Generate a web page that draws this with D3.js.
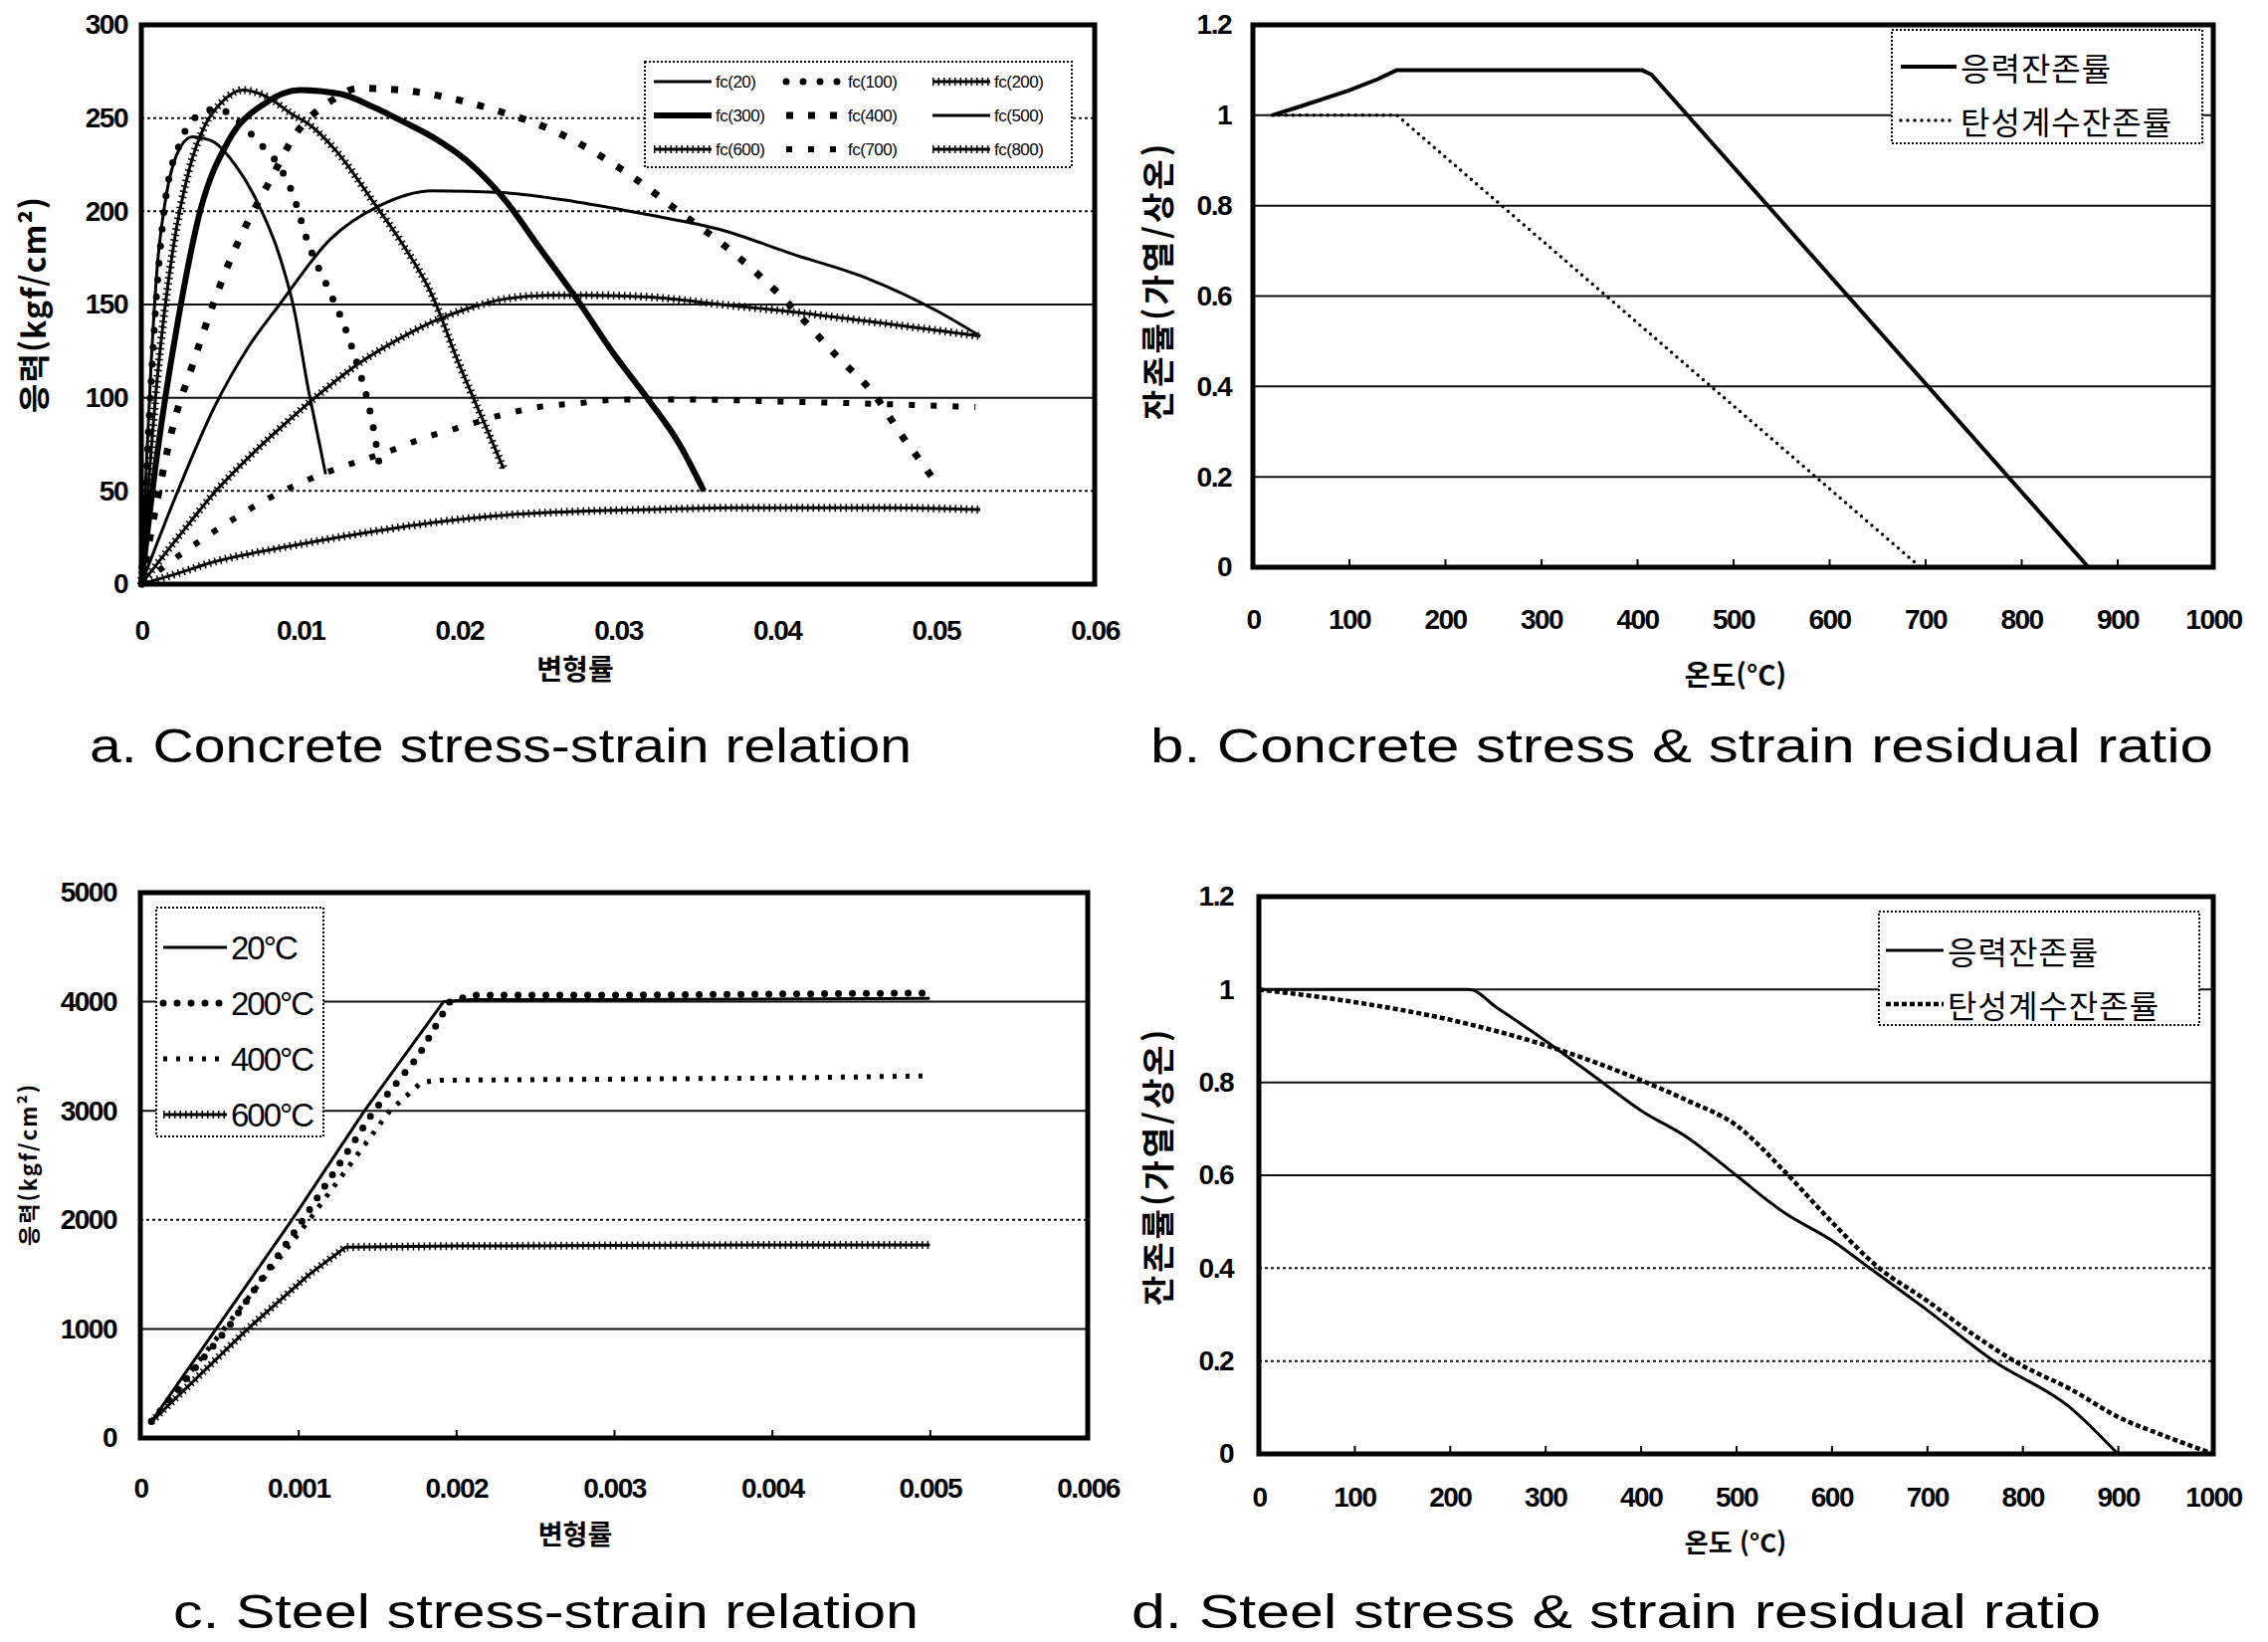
<!DOCTYPE html>
<html lang="ko">
<head>
<meta charset="utf-8">
<title>Concrete and steel at high temperature</title>
<script src="https://d3js.org/d3.v7.min.js"></script>
<style>
  html, body { margin: 0; padding: 0; background: #fff; }
  svg { display: block; }
</style>
</head>
<body>
<div id="chart"></div>
<script>
// ---------- a. concrete stress-strain ----------
var aStrainTicks = [0, 0.01, 0.02, 0.03, 0.04, 0.05, 0.06];
var aStressTicks = [0, 50, 100, 150, 200, 250, 300];
var aNames = ["fc(20)", "fc(100)", "fc(200)", "fc(300)", "fc(400)", "fc(500)", "fc(600)", "fc(700)", "fc(800)"];
var fc20 = [[0,0],[0.0003,60],[0.0006,115],[0.001,170],[0.0015,205],[0.002,225],[0.0025,235],[0.0032,240],[0.004,239],[0.0046,237],[0.0059,225],[0.0073,205],[0.0087,176],[0.0096,148],[0.0105,105],[0.0111,80],[0.0116,59]];
var fc100 = [[0,0],[0.0005,90],[0.001,160],[0.0015,205],[0.0025,238],[0.0035,251],[0.0048,255],[0.006,249],[0.0075,236],[0.0087,224],[0.0095,210],[0.0105,183],[0.0119,156],[0.0128,138],[0.0137,115],[0.0142,100],[0.0146,84],[0.015,63]];
var fc200 = [[0,0],[0.001,110],[0.002,180],[0.003,222],[0.004,246],[0.005,258],[0.0064,265],[0.008,261],[0.0095,252],[0.0105,247],[0.0123,232],[0.0146,205],[0.0164,183],[0.0183,155],[0.02,118],[0.0215,88],[0.0228,62]];
var fc300 = [[0,0],[0.001,70],[0.0023,141],[0.0037,200],[0.0055,238],[0.0078,258],[0.01,265],[0.0125,263],[0.0146,256],[0.0165,248],[0.0183,240],[0.0205,227],[0.0228,207],[0.0251,180],[0.0274,153],[0.0297,124],[0.032,98],[0.0338,76],[0.0354,50]];
var fc400 = [[0,0],[0.001,45],[0.002,85],[0.0032,117],[0.0046,152],[0.0055,172],[0.0068,196],[0.0082,218],[0.0096,240],[0.0119,259],[0.0137,266],[0.0164,265],[0.0187,262],[0.022,255],[0.0265,241],[0.031,218],[0.0338,200],[0.0365,183],[0.0402,155],[0.0438,122],[0.0461,102],[0.048,78],[0.0493,63],[0.0502,52]];
var fc500 = [[0,0],[0.0023,50],[0.0046,95],[0.0068,128],[0.0087,150],[0.0119,185],[0.015,203],[0.0183,211],[0.0228,210],[0.0274,205],[0.032,198],[0.0365,190],[0.041,177],[0.0457,164],[0.0502,146],[0.0528,133]];
var fc600 = [[0,0],[0.0023,25],[0.0047,50],[0.007,70],[0.0093,88],[0.0115,104],[0.0138,119],[0.0161,131],[0.0184,141],[0.0206,148],[0.0229,153],[0.0256,155],[0.028,155],[0.032,154],[0.0365,150],[0.041,146],[0.0457,141],[0.0502,136],[0.0528,133]];
var fc700 = [[0,0],[0.002,13],[0.004,25],[0.006,36],[0.008,46],[0.0105,56],[0.013,64],[0.0155,71],[0.018,79],[0.02,84],[0.0228,91],[0.025,95],[0.0275,97],[0.03,99],[0.035,99],[0.04,98],[0.045,97],[0.0525,95]];
var fc800 = [[0,0],[0.002,5],[0.0046,12],[0.0091,20],[0.0137,27],[0.0183,33],[0.0228,37],[0.0274,39],[0.032,40],[0.037,41],[0.042,41],[0.047,41],[0.0528,40]];

// ---------- b. concrete residual ratio ----------
var tempTicks = [0, 100, 200, 300, 400, 500, 600, 700, 800, 900, 1000];
var ratioTicks = [0, 0.2, 0.4, 0.6, 0.8, 1, 1.2];
var ratioNames = ["응력잔존률", "탄성계수잔존률"];
var bStress = [[20,1.0],[50,1.02],[100,1.055],[130,1.08],[150,1.1],[405,1.1],[415,1.09],[870,0]];
var bModulus = [[20,1.0],[150,1.0],[695,0]];

// ---------- c. steel stress-strain ----------
var cStrainTicks = [0, 0.001, 0.002, 0.003, 0.004, 0.005, 0.006];
var cStressTicks = [0, 1000, 2000, 3000, 4000, 5000];
var cNames = ["20°C", "200°C", "400°C", "600°C"];
var s20 = [[0.00007,150],[0.00048,1000],[0.00096,2000],[0.00142,3000],[0.00192,4000],[0.0021,4020],[0.003,4020],[0.005,4030]];
var s200 = [[0.00007,150],[0.00055,1000],[0.00103,2000],[0.00148,3000],[0.00176,3500],[0.00196,4000],[0.0021,4060],[0.003,4060],[0.004,4070],[0.005,4080]];
var s400 = [[0.00007,150],[0.00053,1000],[0.00107,2000],[0.00158,3000],[0.00178,3260],[0.0019,3280],[0.003,3290],[0.004,3300],[0.005,3320]];
var s600 = [[0.00007,150],[0.00068,1000],[0.00107,1500],[0.0013,1750],[0.002,1760],[0.003,1765],[0.004,1770],[0.005,1770]];

// ---------- d. steel residual ratio ----------
var dStress = [[0,1.0],[100,1.0],[220,1.0],[250,0.96],[300,0.89],[360,0.8],[400,0.74],[450,0.68],[500,0.6],[550,0.52],[600,0.46],[640,0.4],[700,0.31],[770,0.2],[850,0.1],[900,0]];
var dModulus = [[0,1.0],[100,0.973],[200,0.935],[300,0.88],[350,0.845],[400,0.805],[450,0.76],[500,0.708],[550,0.61],[600,0.5],[650,0.4],[700,0.33],[750,0.255],[800,0.19],[850,0.14],[900,0.08],[950,0.038],[1000,0]];

var W = 2279, H = 1650;
var numFont = '"Liberation Sans", Arial, sans-serif';
var koFont = '"Noto Sans CJK KR", "Noto Sans", sans-serif';

var svg = d3.select("#chart").append("svg")
	.attr("width", W)
	.attr("height", H)
	.style("background", "#fff");

// line looks, roughly like the scanned originals
var solid = function(w) { return { width: w }; };
var dots = function(w, gap) { return { width: w, dash: "0," + gap, cap: "round" }; };
var squares = function(w, len, gap) { return { width: w, dash: len + "," + gap }; };
var marked = function(w) { return { width: w, texture: true }; };

function styleLine(sel, st) {
	sel.attr("fill", "none")
		.attr("stroke", "#000")
		.attr("stroke-width", st.width)
		.attr("stroke-linejoin", "round")
		.attr("stroke-linecap", st.cap || "butt")
		.attr("stroke-dasharray", st.dash || null);
}

function drawLine(g, pathD, st) {
	styleLine(g.append("path").attr("d", pathD), st);
	if (st.texture) {
		g.append("path").attr("d", pathD)
			.attr("fill", "none").attr("stroke", "#000")
			.attr("stroke-width", st.width + 5)
			.attr("stroke-dasharray", "1.5,4");
	}
}

function drawPanel(p) {
	var x = d3.scaleLinear().domain(p.xDomain).range([p.left, p.right]);
	var y = d3.scaleLinear().domain(p.yDomain).range([p.bottom, p.top]);
	var g = svg.append("g");

	// gridlines (the frame covers the first and last)
	g.selectAll(".grid")
		.data(p.yTicks.slice(1, -1))
		.enter()
		.append("line")
		.attr("x1", p.left).attr("x2", p.right)
		.attr("y1", function(d) { return y(d); })
		.attr("y2", function(d) { return y(d); })
		.attr("stroke", "#111")
		.attr("stroke-width", 2)
		.attr("stroke-dasharray", function(d) { return p.dottedGrid.indexOf(d) >= 0 ? "3,3" : null; });

	// tick labels
	var xa = g.append("g")
		.attr("transform", "translate(0," + p.bottom + ")")
		.call(d3.axisBottom(x).tickValues(p.xTicks).tickSize(0).tickPadding(p.xPad).tickFormat(d3.format("~g")));
	var ya = g.append("g")
		.attr("transform", "translate(" + p.left + ",0)")
		.call(d3.axisLeft(y).tickValues(p.yTicks).tickSize(0).tickPadding(p.yPad).tickFormat(d3.format("~g")));
	[xa, ya].forEach(function(a) {
		a.select(".domain").remove();
		a.selectAll("text")
			.attr("font-family", numFont)
			.attr("font-weight", "bold")
			.attr("font-size", p.tickSize)
			.attr("letter-spacing", "-1.5")
			.attr("fill", "#000");
	});

	if (p.innerTicks) {
		var it = g.append("g")
			.attr("transform", "translate(0," + p.bottom + ")")
			.call(d3.axisBottom(x).tickValues(p.xTicks).tickSize(-8).tickFormat(""));
		it.select(".domain").remove();
		it.selectAll("line").attr("stroke", "#000").attr("stroke-width", 2);
	}

	// series
	var line = d3.line()
		.x(function(d) { return x(d[0]); })
		.y(function(d) { return y(d[1]); })
		.curve(p.curve);
	p.series.forEach(function(s) {
		drawLine(g, line(s.values), s.style);
	});

	// frame
	g.append("rect")
		.attr("x", p.left).attr("y", p.top)
		.attr("width", p.right - p.left).attr("height", p.bottom - p.top)
		.attr("fill", "none").attr("stroke", "#000").attr("stroke-width", 5);

	// axis titles
	g.append("text")
		.attr("x", p.xTitle[0]).attr("y", p.xTitle[1])
		.attr("text-anchor", "middle").attr("dominant-baseline", "central")
		.attr("font-family", koFont).attr("font-weight", "bold").attr("font-size", p.xTitleSize || 28)
		.text(p.xLabel);
	g.append("text")
		.attr("transform", "translate(" + p.yTitle[0] + "," + p.yTitle[1] + ") rotate(-90)")
		.attr("text-anchor", "middle").attr("dominant-baseline", "central")
		.attr("font-family", koFont).attr("font-weight", "bold")
		.attr("font-size", p.yTitleSize).attr("letter-spacing", p.yTitleSpacing)
		.text(p.yLabel);

	// legend
	var L = p.legend;
	var lg = g.append("g");
	lg.append("rect")
		.attr("x", L.box[0]).attr("y", L.box[1])
		.attr("width", L.box[2]).attr("height", L.box[3])
		.attr("fill", "#fff").attr("stroke", "#000")
		.attr("stroke-width", 2).attr("stroke-dasharray", "2,2");
	p.series.forEach(function(s, i) {
		var pos = L.pos(i);
		drawLine(lg, "M" + pos[0] + "," + pos[1] + "H" + (pos[0] + L.sample), s.style);
		lg.append("text")
			.attr("x", pos[0] + L.sample + 4).attr("y", pos[1])
			.attr("dominant-baseline", "central")
			.attr("font-family", L.font).attr("font-weight", L.weight)
			.attr("font-size", L.size)
			.attr("letter-spacing", L.spacing)
			.text(s.name);
	});

	// caption under the panel
	svg.append("text")
		.attr("x", p.caption[0]).attr("y", p.caption[1])
		.attr("textLength", p.caption[2]).attr("lengthAdjust", "spacingAndGlyphs")
		.attr("font-family", numFont).attr("font-size", 48)
		.text(p.captionText);
}

// a
drawPanel({
	left: 142, right: 1100, top: 25, bottom: 587,
	xDomain: [0, 0.06], yDomain: [0, 300],
	xTicks: aStrainTicks, yTicks: aStressTicks,
	xPad: 36, yPad: 14, tickSize: 28,
	dottedGrid: [250, 200, 50],
	curve: d3.curveMonotoneX,
	series: [
		{ name: aNames[0], values: fc20, style: solid(3) },
		{ name: aNames[1], values: fc100, style: dots(7, 17) },
		{ name: aNames[2], values: fc200, style: marked(3) },
		{ name: aNames[3], values: fc300, style: solid(6) },
		{ name: aNames[4], values: fc400, style: squares(7, 7, 15) },
		{ name: aNames[5], values: fc500, style: solid(3) },
		{ name: aNames[6], values: fc600, style: marked(3) },
		{ name: aNames[7], values: fc700, style: squares(6, 6, 16) },
		{ name: aNames[8], values: fc800, style: marked(3) }
	],
	legend: {
		box: [648, 62, 429, 106], sample: 58, size: 17, font: numFont, weight: "normal", spacing: "-0.5",
		pos: function(i) { return [[657, 790, 937][i % 3], 82 + Math.floor(i / 3) * 34]; }
	},
	xLabel: "변형률", xTitle: [578, 671],
	yLabel: "응력(kgf/cm²)", yTitle: [32, 306], yTitleSize: 32, yTitleSpacing: 1,
	caption: [90, 766, 826], captionText: "a. Concrete stress-strain relation"
});

// b
drawPanel({
	left: 1259, right: 2224, top: 25, bottom: 570,
	xDomain: [0, 1000], yDomain: [0, 1.2],
	xTicks: tempTicks, yTicks: ratioTicks,
	xPad: 42, yPad: 22, tickSize: 28,
	dottedGrid: [],
	innerTicks: true,
	curve: d3.curveLinear,
	series: [
		{ name: ratioNames[0], values: bStress, style: solid(4) },
		{ name: ratioNames[1], values: bModulus, style: dots(3.5, 7) }
	],
	legend: {
		box: [1901, 30, 312, 114], sample: 56, size: 32, font: koFont, weight: "normal", spacing: "1",
		pos: function(i) { return [1910, 67 + i * 54]; }
	},
	xLabel: "온도(°C)", xTitle: [1744, 677],
	yLabel: "잔존률(가열/상온)", yTitle: [1162, 282], yTitleSize: 33, yTitleSpacing: 3,
	caption: [1156, 766, 1068], captionText: "b. Concrete stress & strain residual ratio"
});

// c
drawPanel({
	left: 141, right: 1093, top: 897, bottom: 1445,
	xDomain: [0, 0.006], yDomain: [0, 5000],
	xTicks: cStrainTicks, yTicks: cStressTicks,
	xPad: 40, yPad: 24, tickSize: 28,
	dottedGrid: [2000],
	innerTicks: true,
	curve: d3.curveLinear,
	series: [
		{ name: cNames[0], values: s20, style: solid(3) },
		{ name: cNames[1], values: s200, style: dots(7, 14) },
		{ name: cNames[2], values: s400, style: squares(5, 4, 9) },
		{ name: cNames[3], values: s600, style: marked(3) }
	],
	legend: {
		box: [157, 912, 168, 230], sample: 64, size: 33, font: numFont, weight: "normal", spacing: "-2",
		pos: function(i) { return [164, 952 + i * 56]; }
	},
	xLabel: "변형률", xTitle: [578, 1540], xTitleSize: 27,
	yLabel: "응력(kgf/cm²)", yTitle: [27, 1170], yTitleSize: 22, yTitleSpacing: 2,
	caption: [174, 1636, 749], captionText: "c. Steel stress-strain relation"
});

// d
drawPanel({
	left: 1265, right: 2224, top: 901, bottom: 1461,
	xDomain: [0, 1000], yDomain: [0, 1.2],
	xTicks: tempTicks, yTicks: ratioTicks,
	xPad: 33, yPad: 26, tickSize: 28,
	dottedGrid: [0.4, 0.2],
	innerTicks: true,
	curve: d3.curveMonotoneX,
	series: [
		{ name: ratioNames[0], values: dStress, style: solid(3) },
		{ name: ratioNames[1], values: dModulus, style: squares(4.5, 5, 3) }
	],
	legend: {
		box: [1888, 916, 322, 114], sample: 58, size: 32, font: koFont, weight: "normal", spacing: "1",
		pos: function(i) { return [1895, 955 + i * 54]; }
	},
	xLabel: "온도 (°C)", xTitle: [1744, 1548], xTitleSize: 26,
	yLabel: "잔존률(가열/상온)", yTitle: [1162, 1172], yTitleSize: 33, yTitleSpacing: 3,
	caption: [1137, 1636, 974], captionText: "d. Steel stress & strain residual ratio"
});
</script>
</body>
</html>
